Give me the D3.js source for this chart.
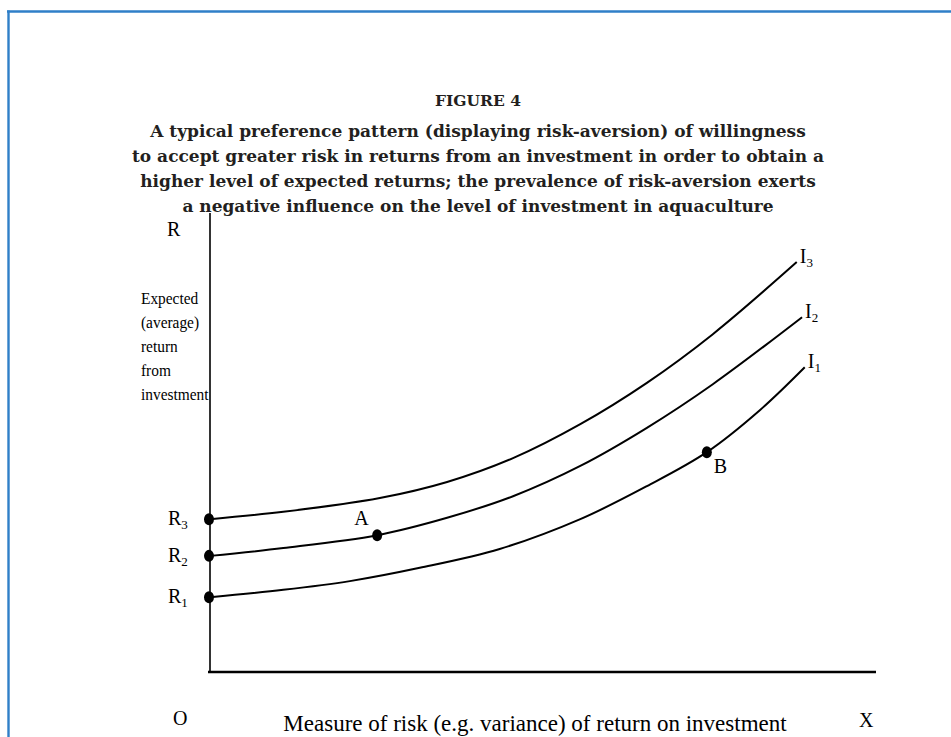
<!DOCTYPE html>
<html>
<head>
<meta charset="utf-8">
<script src="https://cdn.jsdelivr.net/npm/d3@7"></script>
<style>
  html, body { margin: 0; padding: 0; background: #fff; }
  svg { display: block; }
</style>
</head>
<body>
<svg id="chart" width="951" height="737"></svg>
<script>
// ---- Data ----
const titleLines = [
  "FIGURE 4",
  "A typical preference pattern (displaying risk-aversion) of willingness",
  "to accept greater risk in returns from an investment in order to obtain a",
  "higher level of expected returns; the prevalence of risk-aversion exerts",
  "a negative influence on the level of investment in aquaculture"
];
const yLabelLines = ["Expected", "(average)", "return", "from", "investment"];
const xLabel = "Measure of risk (e.g. variance) of return on investment";

const curveNames = ["I3", "I2", "I1"];
const i3Risk   = [0, 11, 25.5, 35.6, 45.5, 55.6, 65.6, 75.5, 88.1];
const i3Return = [33.3, 34.9, 37.9, 41.4, 46.6, 54.0, 63.0, 73.6, 89.3];
const i2Risk   = [0, 11, 25.1, 35.6, 45.5, 55.6, 65.6, 75.5, 88.9];
const i2Return = [25.3, 27.0, 29.8, 33.6, 38.3, 44.9, 53.2, 62.7, 77.3];
const i1Risk   = [0, 11, 21.0, 31.5, 43.5, 55.6, 65.6, 74.6, 82.6, 89.3];
const i1Return = [16.3, 17.9, 19.8, 22.7, 26.8, 33.3, 40.5, 47.9, 57.1, 66.4];

const pointNames  = ["R3", "R2", "R1", "A", "B"];
const pointRisk   = [0, 0, 0, 25.1, 74.6];
const pointReturn = [33.3, 25.3, 16.3, 29.8, 47.9];

// ---- Layout ----
const svg = d3.select("#chart");
const x = d3.scaleLinear().domain([0, 100]).range([210, 876]);
const y = d3.scaleLinear().domain([0, 100]).range([672, 213]);

// frame (blue border)
svg.append("line").attr("x1", 7).attr("x2", 951).attr("y1", 11.5).attr("y2", 11.5)
  .attr("stroke", "#2f7fc8").attr("stroke-width", 2.4);
svg.append("line").attr("x1", 8.5).attr("x2", 8.5).attr("y1", 10.5).attr("y2", 737)
  .attr("stroke", "#2f7fc8").attr("stroke-width", 2.4);

// title
const title = svg.append("g").attr("font-family", "'DejaVu Serif', serif")
  .attr("font-weight", "bold").attr("fill", "#231f20")
  .attr("text-anchor", "middle");
titleLines.forEach((t, i) => {
  title.append("text").attr("x", 478).attr("y", i === 0 ? 106 : 137 + (i - 1) * 25)
    .attr("font-size", i === 0 ? 15.5 : 17).text(t);
});

const serif = "'Liberation Serif', 'Times New Roman', serif";

// axes
svg.append("line").attr("x1", x(0)).attr("x2", x(0)).attr("y1", y(100)).attr("y2", y(0))
  .attr("stroke", "#000").attr("stroke-width", 1.6);
svg.append("line").attr("x1", x(0) - 2).attr("x2", x(100)).attr("y1", y(0)).attr("y2", y(0))
  .attr("stroke", "#000").attr("stroke-width", 2.4);

// axis labels
const lab = svg.append("g").attr("font-family", serif).attr("font-size", 20).attr("fill", "#000");
lab.append("text").attr("x", 167).attr("y", 236).text("R");
lab.append("text").attr("x", 173).attr("y", 725).text("O");
lab.append("text").attr("x", 859).attr("y", 727).text("X");
lab.append("text").attr("x", 535).attr("y", 731).attr("text-anchor", "middle")
  .attr("font-size", 23).text(xLabel);
const yl = svg.append("g").attr("font-family", serif).attr("font-size", 17.5)
  .attr("transform", "translate(141,0) scale(0.88,1)");
yLabelLines.forEach((t, i) => {
  yl.append("text").attr("x", 0).attr("y", 304 + i * 24).text(t);
});

// curves
const curves = [
  {name: curveNames[0], risk: i3Risk, ret: i3Return},
  {name: curveNames[1], risk: i2Risk, ret: i2Return},
  {name: curveNames[2], risk: i1Risk, ret: i1Return}
];
const line = d3.line().x(d => x(d[0])).y(d => y(d[1])).curve(d3.curveCatmullRom.alpha(0.5));
curves.forEach(c => {
  const pts = c.risk.map((r, i) => [r, c.ret[i]]);
  svg.append("path").attr("d", line(pts)).attr("fill", "none")
    .attr("stroke", "#000").attr("stroke-width", 2);
  const last = pts[pts.length - 1];
  const t = lab.append("text").attr("x", x(last[0]) + 3).attr("y", y(last[1]) + 1);
  t.append("tspan").text(c.name[0]);
  t.append("tspan").attr("font-size", 13).attr("dy", 4).text(c.name.slice(1));
});

// points
pointNames.forEach((n, i) => {
  svg.append("ellipse").attr("cx", x(pointRisk[i]) - (i < 3 ? 1 : 0)).attr("cy", y(pointReturn[i]))
    .attr("rx", 5).attr("ry", 6).attr("fill", "#000");
});
// point labels
[0, 1, 2].forEach(i => {
  const t = lab.append("text").attr("x", x(pointRisk[i]) - 42).attr("y", y(pointReturn[i]) + 6);
  t.append("tspan").text(pointNames[i][0]);
  t.append("tspan").attr("font-size", 13).attr("dy", 4).text(pointNames[i].slice(1));
});
lab.append("text").attr("x", x(pointRisk[3]) - 23).attr("y", y(pointReturn[3]) - 10).text(pointNames[3]);
lab.append("text").attr("x", x(pointRisk[4]) + 7).attr("y", y(pointReturn[4]) + 21).text(pointNames[4]);
</script>
</body>
</html>
